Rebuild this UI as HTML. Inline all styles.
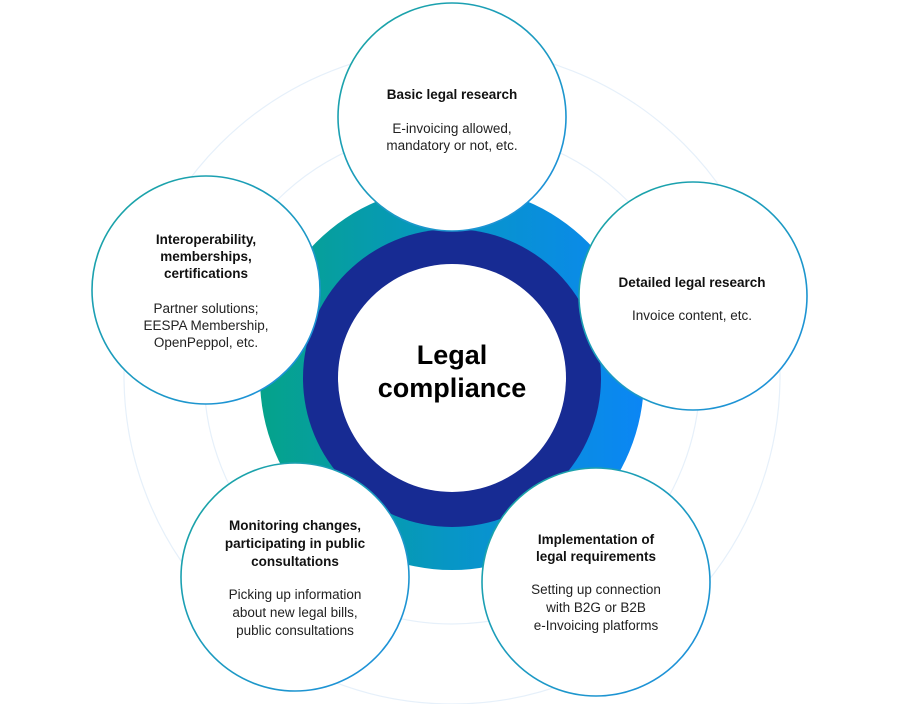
<!DOCTYPE html>
<html><head><meta charset="utf-8"><style>
html,body{margin:0;padding:0;background:#fff;}
svg{display:block;font-family:"Liberation Sans",Arial,sans-serif;}
.t{font-weight:bold;font-size:13.5px;fill:#111;}
.d{font-size:13.5px;fill:#222;}
</style></head><body>
<svg width="900" height="704" viewBox="0 0 900 704" xmlns="http://www.w3.org/2000/svg">
<defs>
<linearGradient id="g" x1="0" y1="0" x2="1" y2="0">
<stop offset="0" stop-color="#05a38a"/><stop offset="0.5" stop-color="#0796c6"/><stop offset="1" stop-color="#0b86f5"/>
</linearGradient>
<linearGradient id="s" x1="0" y1="0" x2="1" y2="1">
<stop offset="0" stop-color="#1aa6a0"/><stop offset="1" stop-color="#1e8fe0"/>
</linearGradient>
</defs>
<circle cx="452" cy="376" r="328" fill="none" stroke="#e6f0fa" stroke-width="1.2"/>
<circle cx="452" cy="376" r="248" fill="none" stroke="#e6f0fa" stroke-width="1.2"/>
<circle cx="452" cy="378" r="192" fill="url(#g)"/>
<circle cx="452" cy="378" r="149" fill="#172b93"/>
<circle cx="452" cy="378" r="114" fill="#fff"/>
<text x="452" y="364" text-anchor="middle" font-weight="bold" font-size="27" fill="#000">Legal</text>
<text x="452" y="397" text-anchor="middle" font-weight="bold" font-size="27" fill="#000">compliance</text>

<g fill="#fff" stroke="url(#s)" stroke-width="1.6">
<circle cx="452" cy="117" r="114"/>
<circle cx="693" cy="296" r="114"/>
<circle cx="206" cy="290" r="114"/>
<circle cx="295" cy="577" r="114"/>
<circle cx="596" cy="582" r="114"/>
</g>

<text class="t" x="452" y="99" text-anchor="middle">Basic legal research</text>
<text class="d" x="452" y="133" text-anchor="middle">E-invoicing allowed,</text>
<text class="d" x="452" y="150" text-anchor="middle">mandatory or not, etc.</text>

<text class="t" x="692" y="287" text-anchor="middle">Detailed legal research</text>
<text class="d" x="692" y="320" text-anchor="middle">Invoice content, etc.</text>

<text class="t" x="206" y="244" text-anchor="middle">Interoperability,</text>
<text class="t" x="206" y="261" text-anchor="middle">memberships,</text>
<text class="t" x="206" y="278" text-anchor="middle">certifications</text>
<text class="d" x="206" y="313" text-anchor="middle">Partner solutions;</text>
<text class="d" x="206" y="330" text-anchor="middle">EESPA Membership,</text>
<text class="d" x="206" y="347" text-anchor="middle">OpenPeppol, etc.</text>

<text class="t" x="295" y="530" text-anchor="middle">Monitoring changes,</text>
<text class="t" x="295" y="548" text-anchor="middle">participating in public</text>
<text class="t" x="295" y="566" text-anchor="middle">consultations</text>
<text class="d" x="295" y="599" text-anchor="middle">Picking up information</text>
<text class="d" x="295" y="617" text-anchor="middle">about new legal bills,</text>
<text class="d" x="295" y="635" text-anchor="middle">public consultations</text>

<text class="t" x="596" y="544" text-anchor="middle">Implementation of</text>
<text class="t" x="596" y="561" text-anchor="middle">legal requirements</text>
<text class="d" x="596" y="594" text-anchor="middle">Setting up connection</text>
<text class="d" x="596" y="612" text-anchor="middle">with B2G or B2B</text>
<text class="d" x="596" y="630" text-anchor="middle">e-Invoicing platforms</text>
</svg>
</body></html>
